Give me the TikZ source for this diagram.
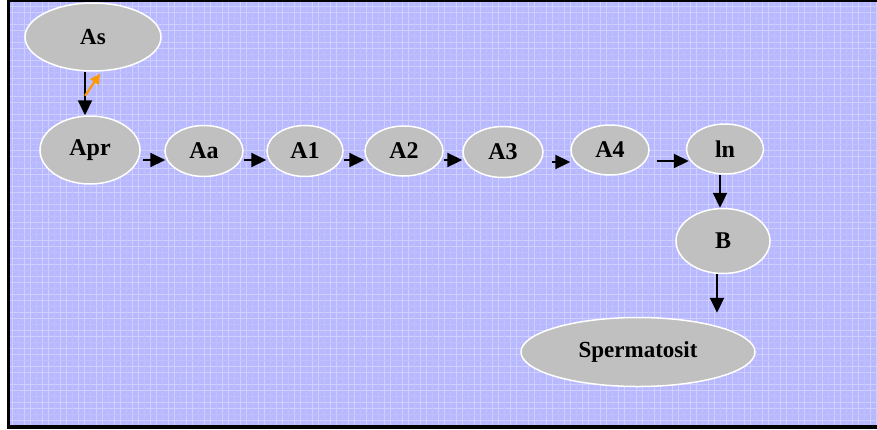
\documentclass[tikz,border=0pt]{standalone}
\usepackage{fontspec}
\setmainfont{Liberation Serif}
\usetikzlibrary{shapes.geometric,arrows.meta,calc}
\definecolor{bgblue}{RGB}{184,184,255}
\definecolor{cellgray}{RGB}{192,192,192}
\definecolor{arrorange}{RGB}{255,153,0}
\tikzset{
  cell/.style={ellipse,fill=cellgray,draw=white,line width=1.5pt,inner sep=0pt,
    font=\fontsize{24}{24}\selectfont\bfseries},
  arr/.style={line width=2.2pt,-{Triangle[length=15pt,width=14pt]}},
  oarr/.style={line width=2.2pt,draw=arrorange,-{Triangle[length=10pt,width=10pt]},arrorange},
}
\begin{document}
\begin{tikzpicture}[x=1pt,y=-1pt]
\useasboundingbox (0,0) rectangle (877,429);
\fill[bgblue] (8,1) rectangle (877,427);
\begin{scope}
\clip (10,2) rectangle (877,425);
\draw[white,opacity=0.35,line width=0.6pt,step=6pt] (10,2) grid (877,425);
\draw[blue!60,opacity=0.15,line width=0.6pt,step=18pt] (10,2) grid (877,425);
\end{scope}
\fill[black] (7,0) rectangle (10,429);
\fill[black] (7,0) rectangle (877,2);
\fill[black] (7,425) rectangle (877,429);

\node[cell,minimum width=136pt,minimum height=68pt,font=\fontsize{23}{23}\selectfont\bfseries] (As) at (93,37) {As};
\node[cell,minimum width=100pt,minimum height=68pt] (Apr) at (90,150) {Apr};
\node[cell,minimum width=78pt,minimum height=51pt] (Aa) at (204,151) {Aa};
\node[cell,minimum width=76pt,minimum height=51pt] (A1) at (305,151) {A1};
\node[cell,minimum width=78pt,minimum height=50pt] (A2) at (404,151) {A2};
\node[cell,minimum width=80pt,minimum height=51pt] (A3) at (503,152) {A3};
\node[cell,minimum width=78pt,minimum height=50pt] (A4) at (610,150) {A4};
\node[cell,minimum width=77pt,minimum height=50pt] (ln) at (725,149) {ln};
\node[cell,minimum width=94pt,minimum height=65pt] (B) at (723,241) {B};
\node[cell,minimum width=234pt,minimum height=69pt,font=\fontsize{23}{23}\selectfont\bfseries] (Sp) at (638,352) {Spermatosit};

\draw[arr] ([xshift=-8pt]As.south) -- ([xshift=-5pt]Apr.north);
\draw[oarr] ($([xshift=-8pt]As.south)+(0,24)$) -- ($(As.south)+(7,2)$);
\draw[arr] ([shift={(2pt,-10pt)}]Apr.east) -- ([shift={(1pt,-9pt)}]Aa.west);
\draw[arr] ([shift={(0pt,-9pt)}]Aa.east) -- ([shift={(0pt,-9pt)}]A1.west);
\draw[arr] ([shift={(0pt,-9pt)}]A1.east) -- ([shift={(0pt,-9pt)}]A2.west);
\draw[arr] ([shift={(0pt,-9pt)}]A2.east) -- ([shift={(0pt,-8pt)}]A3.west);
\draw[arr] ([shift={(8pt,-10pt)}]A3.east) -- ([shift={(0pt,-12pt)}]A4.west);
\draw[arr] ([shift={(7pt,-11pt)}]A4.east) -- ([shift={(3pt,-12pt)}]ln.west);
\draw[arr] ([xshift=-5pt]ln.south) -- ([xshift=-3pt]B.north);
\draw[arr] ([xshift=-6pt]B.south) -- ($(Sp.north)+(79pt,4pt)$);
\end{tikzpicture}
\end{document}
